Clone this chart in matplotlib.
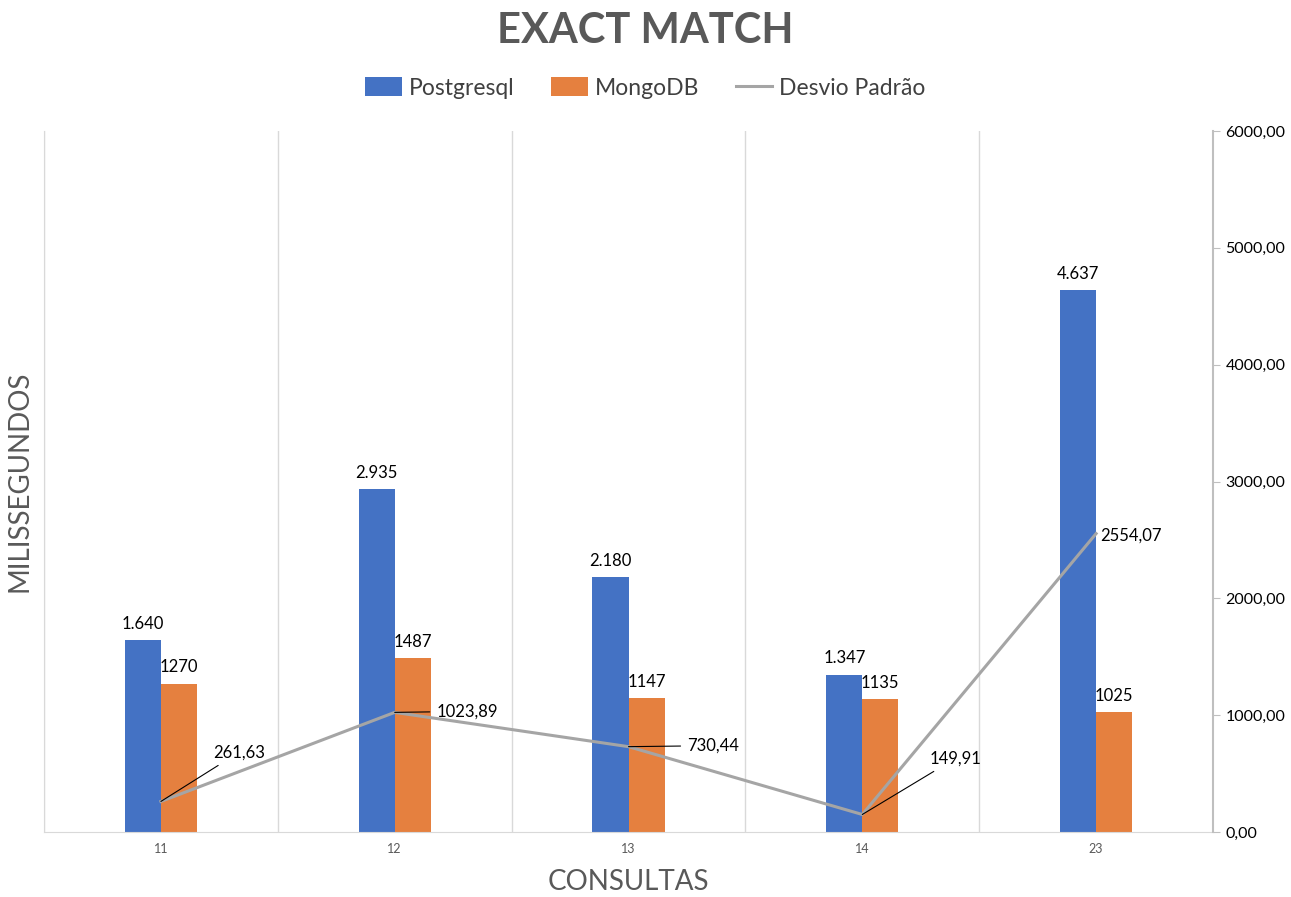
import matplotlib.pyplot as plt
import numpy as np

# dados
consultas = ["11", "12", "13", "14", "23"]
postgres = [1640, 2935, 2180, 1347, 4637]
mongo = [1270, 1487, 1147, 1135, 1025]
desvio = [261.63, 1023.89, 730.44, 149.91, 2554.07]
postgres_txt = ["1.640", "2.935", "2.180", "1.347", "4.637"]
mongo_txt = ["1270", "1487", "1147", "1135", "1025"]
desvio_txt = ["261,63", "1023,89", "730,44", "149,91", "2554,07"]
# deslocamento dos rotulos do desvio (pixels) e se tem linha guia
desvio_off = [(52, 49), (42, 1), (59, 1), (67, 56), (4, -2)]
desvio_guia = [True, True, True, True, False]

plt.rcParams['font.family'] = ['Lato', 'DejaVu Sans']

blue = "#4472C4"
orange = "#E5803F"
gray_line = "#A5A5A5"
grid_c = "#D9D9D9"

fig = plt.figure(figsize=(12.91, 8.97), dpi=100)
ax = fig.add_axes([44 / 1291, 65 / 897, 1169 / 1291, 701 / 897])
ax2 = ax.twinx()

x = np.arange(len(consultas))
w = 0.154
b1 = ax.bar(x - w / 2, postgres, w, color=blue, label="Postgresql", zorder=2)
b2 = ax.bar(x + w / 2, mongo, w, color=orange, label="MongoDB", zorder=2)
ax.bar_label(b1, labels=postgres_txt, padding=6, fontsize=12, color="#000000")
ax.bar_label(b2, labels=mongo_txt, padding=6, fontsize=12, color="#000000")

ln, = ax2.plot(x, desvio, color=gray_line, lw=2.2, label="Desvio Padrão", zorder=3)
for xi, v, t, off, g in zip(x, desvio, desvio_txt, desvio_off, desvio_guia):
    props = dict(arrowstyle="-", color="black", lw=0.8, shrinkA=3, shrinkB=0) if g else None
    ax2.annotate(t, (xi, v), xytext=off, textcoords="offset pixels",
                 ha="left", va="center", fontsize=12, arrowprops=props)

for a in (ax, ax2):
    a.set_ylim(0, 6000)
    a.set_xlim(-0.5, 4.5)

ax.set_yticks([])
ax.set_xticks(x)
ax.set_xticklabels(consultas, fontsize=9, color="#595959")
ax.tick_params(axis="x", length=0, pad=8)
ax.set_xticks(np.arange(-0.5, 5), minor=True)
ax.tick_params(axis="x", which="minor", length=0)
ax.grid(which="minor", axis="x", color=grid_c, lw=1, zorder=0)
ax.set_axisbelow(True)

ax2.set_yticks(np.arange(0, 6001, 1000))
ax2.set_yticklabels([f"{v},00" for v in range(0, 6001, 1000)], fontsize=11.5)
ax2.tick_params(axis="y", length=5, color="#BFBFBF", pad=4)

for s in ("top",):
    ax.spines[s].set_visible(False)
    ax2.spines[s].set_visible(False)
ax.spines["left"].set_color(grid_c)
ax2.spines["left"].set_visible(False)
ax.spines["bottom"].set_color(grid_c)
ax2.spines["bottom"].set_visible(False)
ax.spines["right"].set_visible(False)
ax2.spines["right"].set_color("#BFBFBF")
ax2.spines["right"].set_linewidth(1.5)

ax.set_ylabel("MILISSEGUNDOS", fontsize=20, color="#595959", labelpad=8)
ax.set_xlabel("CONSULTAS", fontsize=20, color="#595959", labelpad=10)

fig.text(0.5, 0.965, "EXACT MATCH", ha="center", va="center",
         fontsize=30, fontweight="bold", color="#595959")
fig.legend(handles=[b1, b2, ln], loc="center", bbox_to_anchor=(0.5, 0.902),
           ncol=3, frameon=False, fontsize=16.5, handlelength=1.6,
           handleheight=0.9, columnspacing=1.6, handletextpad=0.3,
           labelcolor="#404040")

fig.savefig("out.png", dpi=100)
